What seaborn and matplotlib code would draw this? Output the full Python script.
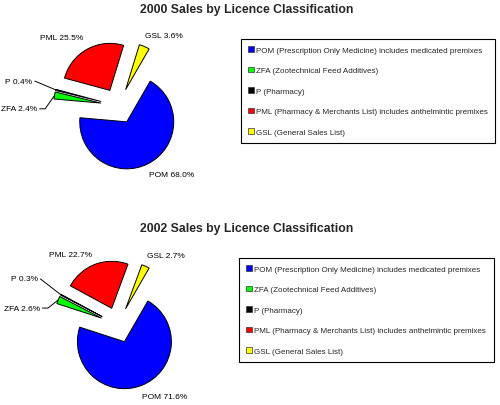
import numpy as np
import matplotlib
matplotlib.use("Agg")
import matplotlib.pyplot as plt
from matplotlib.patches import Patch
import seaborn as sns

# ---------------- data ----------------
categories = ["POM", "ZFA", "P", "PML", "GSL"]
legend_labels = [
    "POM (Prescription Only Medicine) includes medicated premixes",
    "ZFA (Zootechnical Feed Additives)",
    "P (Pharmacy)",
    "PML (Pharmacy & Merchants List) includes anthelmintic premixes",
    "GSL (General Sales List)",
]
titles = ["2000 Sales by Licence Classification", "2002 Sales by Licence Classification"]
values_2000 = [68.0, 2.4, 0.4, 25.5, 3.6]
values_2002 = [71.6, 2.6, 0.3, 22.7, 2.7]

# ---------------- style ----------------
sns.set_theme(style="white")
plt.rcParams["font.family"] = ["Liberation Sans", "DejaVu Sans"]
colors = ["#0000FF", "#00FF00", "#000000", "#FF0000", "#FFFF00"]

W, H = 500, 406
fig = plt.figure(figsize=(W / 100, H / 100), dpi=100)
fig.patch.set_facecolor("white")

R = 47.0  # pie radius in px
layouts = [
    dict(cx=118.5, cy=107, box=(0, 20, 240, 185), title_y=10, leg=(241, 40, 254, 106),
         lab={"POM": (1.13, -1.45, "center"), "PML": (-1.21, 1.45, "center"),
              "GSL": (0.96, 1.51, "center"), "P": (-1.83, 0.53, "right"),
              "ZFA": (-1.73, -0.06, "right")}),
    dict(cx=118, cy=326, box=(0, 240, 240, 166), title_y=229, leg=(239, 259, 255, 107),
         lab={"POM": (1.0, -1.53, "center"), "PML": (-1.02, 1.51, "center"),
              "GSL": (1.02, 1.47, "center"), "P": (-1.70, 0.98, "right"),
              "ZFA": (-1.66, 0.36, "right")}),
]

for vals, title, lay in zip([values_2000, values_2002], titles, layouts):
    x0, y0, w, h = lay["box"]
    cx, cy = lay["cx"], lay["cy"]
    ax = fig.add_axes([x0 / W, 1 - (y0 + h) / H, w / W, h / H])
    wedges, _ = ax.pie(vals, colors=colors, startangle=60, counterclock=False,
                       explode=[0.38] * len(vals), radius=1,
                       wedgeprops=dict(edgecolor="black", linewidth=0.7))
    ax.set_xlim((x0 - cx) / R, (x0 + w - cx) / R)
    ax.set_ylim((cy - (y0 + h)) / R, (cy - y0) / R)
    ax.set_aspect("auto")
    ax.axis("off")

    for cat, v, wd in zip(categories, vals, wedges):
        tx, ty, ha = lay["lab"][cat]
        ax.text(tx, ty, f"{cat} {v:.1f}%", ha=ha, va="center", fontsize=6.0,
                color="black")
        if cat in ("P", "ZFA"):
            mid = np.deg2rad((wd.theta1 + wd.theta2) / 2)
            axp = wd.center[0] + wd.r * np.cos(mid)
            ayp = wd.center[1] + wd.r * np.sin(mid)
            sx = tx + 0.05
            if cat == "ZFA":
                xs = [sx, sx + 0.12, axp]
                ys = [ty, ty, ayp]
            else:
                xs = [sx, axp]
                ys = [ty, ayp]
            ax.plot(xs, ys, color="black", lw=0.7)

    fig.text(0.494, 1 - lay["title_y"] / H, title, ha="center", va="center",
             fontsize=8.8, fontweight="bold")

    lx, ly, lw_, lh = lay["leg"]
    handles = [Patch(facecolor=c, edgecolor="#333333", linewidth=0.5) for c in colors]
    leg = fig.legend(handles, legend_labels, loc="upper left",
                     bbox_to_anchor=(lx / W, 1 - (ly + lh) / H, lw_ / W, lh / H),
                     mode="expand", fontsize=5.8, frameon=True, fancybox=False,
                     edgecolor="black", framealpha=1, handlelength=0.7,
                     handleheight=0.7, handletextpad=0.3, labelspacing=1.6,
                     borderpad=0.9, borderaxespad=0, shadow=False)
    leg.get_frame().set_linewidth(0.8)

fig.savefig("out.png", dpi=100, facecolor="white")
